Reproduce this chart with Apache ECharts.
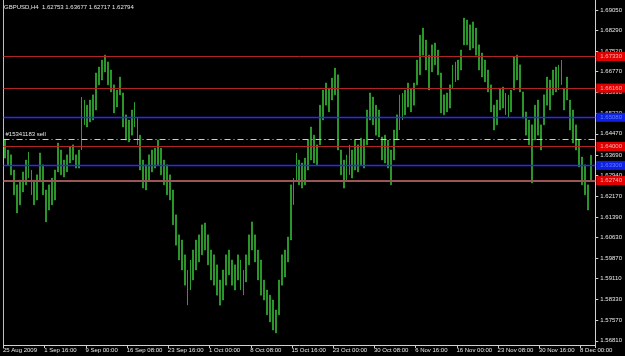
<!DOCTYPE html>
<html>
<head>
<meta charset="utf-8">
<script src="https://cdn.jsdelivr.net/npm/echarts@6/dist/echarts.min.js"></script>
<style>
html,body{margin:0;padding:0;background:#000;}
#c{width:625px;height:356px;}
</style>
</head>
<body>
<div id="c"></div>
<script>
const symbolTitle = 'GBPUSD,H4  1.62753 1.63677 1.62717 1.62794';
const timeLabels = ['25 Aug 2009','1 Sep 16:00','9 Sep 00:00','16 Sep 08:00','23 Sep 16:00','1 Oct 00:00','8 Oct 08:00','15 Oct 16:00','23 Oct 00:00','30 Oct 08:00','6 Nov 16:00','16 Nov 00:00','23 Nov 08:00','30 Nov 16:00','8 Dec 00:00'];
const priceTicks = [1.69050,1.68290,1.67520,1.66770,1.65990,1.65220,1.64470,1.63690,1.62940,1.62170,1.61390,1.60630,1.59870,1.59110,1.58330,1.57570,1.56810];
const redLevels = [1.67330, 1.66160, 1.64000, 1.62740];
const blueLevels = [1.65080, 1.63300];
const orderLevel = 1.64266;
const orderText = '#15341183 sell';

const highs = [
1.6424,1.6387,1.6369,1.6313,1.6258,1.6276,1.6306,1.6350,1.6380,1.6313,
1.6276,1.6295,1.6376,1.6332,1.6239,1.6258,1.6283,1.6313,1.6413,1.6387,
1.6350,1.6369,1.6398,1.6406,1.6369,1.6387,1.6583,1.6572,1.6553,1.6572,
1.6591,1.6672,1.6694,1.6720,1.6738,1.6713,1.6683,1.6628,1.6609,1.6657,
1.6598,1.6517,1.6498,1.6535,1.6564,1.6509,1.6442,1.6350,1.6332,1.6369,
1.6387,1.6394,1.6424,1.6394,1.6350,1.6332,1.6295,1.6239,1.6147,1.6073,
1.6054,1.5999,1.5943,1.5980,1.6017,1.6054,1.6073,1.6110,1.6117,1.6073,
1.6017,1.5999,1.5962,1.5906,1.5943,1.5999,1.6017,1.5980,1.5962,1.5999,
1.5980,1.5943,1.5999,1.6073,1.6121,1.6073,1.6017,1.5980,1.5906,1.5869,
1.5850,1.5832,1.5795,1.5906,1.5999,1.6017,1.6065,1.6258,1.6283,1.6376,
1.6350,1.6339,1.6357,1.6424,1.6472,1.6442,1.6406,1.6553,1.6609,1.6635,
1.6616,1.6653,1.6690,1.6665,1.6387,1.6350,1.6369,1.6406,1.6387,1.6424,
1.6406,1.6431,1.6424,1.6535,1.6598,1.6583,1.6553,1.6535,1.6435,1.6442,
1.6424,1.6387,1.6461,1.6517,1.6591,1.6598,1.6609,1.6635,1.6616,1.6635,
1.6720,1.6812,1.6838,1.6794,1.6738,1.6776,1.6783,1.6757,1.6672,1.6591,
1.6598,1.6628,1.6702,1.6713,1.6720,1.6757,1.6875,1.6868,1.6850,1.6861,
1.6838,1.6776,1.6746,1.6720,1.6683,1.6628,1.6553,1.6572,1.6616,1.6620,
1.6598,1.6591,1.6609,1.6731,1.6738,1.6702,1.6602,1.6528,1.6498,1.6480,
1.6553,1.6572,1.6480,1.6591,1.6657,1.6646,1.6683,1.6694,1.6702,1.6720,
1.6616,1.6657,1.6572,1.6535,1.6480,1.6424,1.6361,1.6332,1.6258,1.63677
];
const lows = [
1.6357,1.6332,1.6295,1.6221,1.6154,1.6184,1.6232,1.6258,1.6283,1.6221,
1.6184,1.6202,1.6269,1.6221,1.6121,1.6165,1.6184,1.6202,1.6306,1.6295,
1.6287,1.6306,1.6339,1.6350,1.6320,1.6320,1.6387,1.6480,1.6472,1.6491,
1.6498,1.6535,1.6628,1.6646,1.6676,1.6628,1.6602,1.6524,1.6546,1.6591,
1.6472,1.6424,1.6417,1.6442,1.6472,1.6406,1.6313,1.6246,1.6239,1.6276,
1.6306,1.6320,1.6332,1.6295,1.6258,1.6221,1.6202,1.6110,1.6035,1.5980,
1.5943,1.5887,1.5813,1.5869,1.5906,1.5943,1.5973,1.5999,1.6017,1.5962,
1.5906,1.5887,1.5850,1.5813,1.5832,1.5887,1.5925,1.5887,1.5869,1.5906,
1.5869,1.5850,1.5899,1.5962,1.6017,1.5973,1.5906,1.5850,1.5832,1.5777,
1.5751,1.5721,1.5710,1.5777,1.5887,1.5917,1.5973,1.6054,1.6184,1.6269,
1.6258,1.6246,1.6258,1.6313,1.6350,1.6339,1.6332,1.6406,1.6498,1.6553,
1.6528,1.6572,1.6591,1.6387,1.6295,1.6246,1.6276,1.6295,1.6283,1.6313,
1.6306,1.6332,1.6320,1.6406,1.6498,1.6480,1.6442,1.6435,1.6350,1.6339,
1.6320,1.6258,1.6350,1.6424,1.6461,1.6498,1.6517,1.6546,1.6528,1.6553,
1.6628,1.6665,1.6738,1.6683,1.6609,1.6676,1.6702,1.6665,1.6524,1.6517,
1.6528,1.6542,1.6616,1.6639,1.6646,1.6683,1.6776,1.6776,1.6757,1.6764,
1.6738,1.6683,1.6657,1.6639,1.6602,1.6528,1.6461,1.6480,1.6535,1.6542,
1.6517,1.6509,1.6528,1.6609,1.6646,1.6602,1.6505,1.6442,1.6406,1.6265,
1.6424,1.6442,1.6387,1.6480,1.6553,1.6535,1.6591,1.6602,1.6609,1.6628,
1.6535,1.6572,1.6461,1.6413,1.6387,1.6324,1.6258,1.6221,1.6165,1.62717
];

const LABEL_EVERY = 14;
const categories = highs.map((_, i) => String(i)).concat(['']);
const candleData = lows.map((l, i) => [l, highs[i], l, highs[i]]);

const fontFam = '"Liberation Sans", Arial, sans-serif';
const textCol = '#e8e8e8';
const green = '#36bc36';

function levelSeries(v, lineColor, bg, fg, width, withLabel, labelOpt) {
  return {
    type: 'line', data: [], silent: true, yAxisIndex: 0, color: lineColor,
    markLine: {
      silent: true, symbol: 'none', animation: false, precision: 6,
      lineStyle: { color: lineColor, width: width, opacity: 1, type: labelOpt && labelOpt.dash ? labelOpt.dash : 'solid' },
      label: withLabel ? {
        show: true, position: 'end', distance: 1,
        formatter: v.toFixed(5),
        backgroundColor: bg, color: fg,
        fontSize: 6, fontFamily: fontFam,
        padding: [2, 3, 1, 4]
      } : (labelOpt && labelOpt.text ? {
        show: true, position: 'insideStartTop', distance: 2,
        formatter: labelOpt.text, color: textCol, fontSize: 6, fontFamily: fontFam
      } : { show: false }),
      data: [{ yAxis: v }]
    }
  };
}

const levelSeriesList = [];
redLevels.forEach((v, i) => {
  const last = i === redLevels.length - 1;
  levelSeriesList.push(levelSeries(v, last ? '#9a5656' : '#b02424', '#e00000', '#ffb0b0', last ? 2 : 1, true));
});
blueLevels.forEach(v => levelSeriesList.push(levelSeries(v, '#2a2aff', '#1020e0', '#6080ff', 1.4, true)));
levelSeriesList.push(levelSeries(orderLevel, '#c8d4c0', null, null, 1, false, { dash: [6, 3, 1, 3], text: orderText }));

const chart = echarts.init(document.getElementById('c'), null, { renderer: 'canvas' });
const yMin = 1.56655, yMax = 1.6942;
chart.setOption({
  backgroundColor: '#000',
  animation: false,
  grid: { left: 2, right: 28, top: 0, bottom: 11, containLabel: false },
  graphic: [{
    type: 'text', left: 4, top: 4,
    style: { text: symbolTitle, fill: textCol, fontSize: 6, fontFamily: fontFam }
  }],
  xAxis: {
    type: 'category',
    data: categories,
    boundaryGap: true,
    axisLine: { show: true, lineStyle: { color: '#d0d0d0', width: 1 } },
    axisTick: {
      show: true, length: 3, inside: false,
      interval: (idx) => idx % LABEL_EVERY === 0,
      lineStyle: { color: '#d0d0d0' }
    },
    axisLabel: {
      show: true,
      interval: (idx) => idx % LABEL_EVERY === 0,
      formatter: (val, idx) => (idx % LABEL_EVERY === 0 && timeLabels[idx / LABEL_EVERY]) ? timeLabels[idx / LABEL_EVERY] : '',
      color: textCol, fontSize: 6, fontFamily: fontFam,
      align: 'left', margin: 2, padding: [0, 0, 0, -2]
    },
    splitLine: { show: false }
  },
  yAxis: [{
    type: 'value', position: 'right', min: yMin, max: yMax, scale: true,
    axisLine: { show: true, lineStyle: { color: '#d0d0d0', width: 1 } },
    axisTick: { show: true, length: 3, customValues: priceTicks, lineStyle: { color: '#d0d0d0' } },
    axisLabel: {
      show: true, customValues: priceTicks, margin: 5,
      formatter: (v) => v.toFixed(5),
      color: textCol, fontSize: 6, fontFamily: fontFam
    },
    splitLine: { show: false }
  }, {
    type: 'value', position: 'left', min: yMin, max: yMax, scale: true,
    axisLine: { show: true, lineStyle: { color: '#c0c0c0', width: 1 } },
    axisTick: { show: false }, axisLabel: { show: false }, splitLine: { show: false }
  }],
  series: levelSeriesList.concat([{
    type: 'candlestick',
    yAxisIndex: 0,
    data: candleData,
    barWidth: 1.4,
    z: 3,
    itemStyle: {
      color: green, color0: green,
      borderColor: green, borderColor0: green, borderWidth: 0.6
    }
  }])
});
</script>
</body>
</html>
